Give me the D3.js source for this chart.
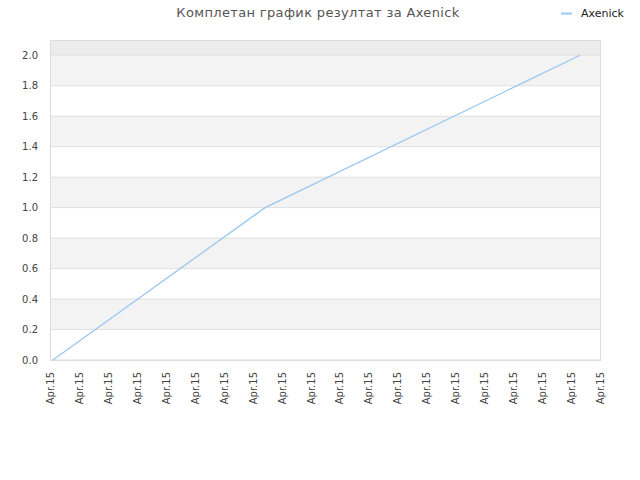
<!DOCTYPE html>
<html>
<head>
<meta charset="utf-8">
<script src="https://cdn.jsdelivr.net/npm/d3@7"></script>
<style>
  body { margin: 0; background: #fff; }
  text { font-family: "DejaVu Sans", sans-serif; }
</style>
</head>
<body>
<script>
// data
let seriesName = "Axenick"
let xTickLabels = ["Apr.15","Apr.15","Apr.15","Apr.15","Apr.15","Apr.15","Apr.15","Apr.15","Apr.15","Apr.15",
                   "Apr.15","Apr.15","Apr.15","Apr.15","Apr.15","Apr.15","Apr.15","Apr.15","Apr.15","Apr.15"]
let pointPos = [0.1, 7.43, 18.31]
let pointValues = [0.0, 1.0, 2.0]
let yTicks = [0.0, 0.2, 0.4, 0.6, 0.8, 1.0, 1.2, 1.4, 1.6, 1.8, 2.0]

let width = 640
let height = 480
let plotLeft = 50, plotRight = 600, plotTop = 40, plotBottom = 360

let svg = d3.select("body")
            .append("svg")
            .attr("width", width)
            .attr("height", height)

let xScale = d3.scaleLinear()
                .domain([0, xTickLabels.length - 1])
                .range([plotLeft, plotRight])

let yScale = d3.scaleLinear()
                .domain([0, 2.1])
                .range([plotBottom, plotTop])

// bands
svg.append("rect")
    .attr("x", plotLeft).attr("y", plotTop)
    .attr("width", plotRight - plotLeft)
    .attr("height", yScale(2.0) - plotTop)
    .attr("fill", "#ececec")

svg.selectAll("rect.band")
    .data(yTicks.slice(0, -1).filter((d, i) => i % 2 == 1))
    .enter()
    .append("rect")
    .attr("class", "band")
    .attr("x", plotLeft)
    .attr("y", d => yScale(d + 0.2))
    .attr("width", plotRight - plotLeft)
    .attr("height", d => yScale(d) - yScale(d + 0.2))
    .attr("fill", "#f3f3f3")

// grid lines
svg.selectAll("line.grid")
    .data(yTicks)
    .enter()
    .append("line")
    .attr("class", "grid")
    .attr("x1", plotLeft).attr("x2", plotRight)
    .attr("y1", d => yScale(d)).attr("y2", d => yScale(d))
    .attr("stroke", "#e0e0e0")

svg.append("rect")
    .attr("x", plotLeft + 0.5).attr("y", plotTop + 0.5)
    .attr("width", plotRight - plotLeft)
    .attr("height", plotBottom - plotTop)
    .attr("fill", "none")
    .attr("stroke", "#dcdcdc")

// y axis
let yAxis = d3.axisLeft(yScale)
                .tickValues(yTicks)
                .tickFormat(d3.format(".1f"))
                .tickSize(0)
                .tickPadding(12)

svg.append("g")
    .attr("transform", "translate(" + plotLeft + ",0)")
    .call(yAxis)
    .call(g => g.select(".domain").remove())
    .selectAll("text")
    .attr("font-family", "DejaVu Sans")
    .attr("font-size", 10)
    .attr("fill", "#444")

// x axis
let xAxis = d3.axisBottom(xScale)
                .tickValues(d3.range(xTickLabels.length))
                .tickFormat(i => xTickLabels[i])
                .tickSize(0)

svg.append("g")
    .attr("transform", "translate(0," + plotBottom + ")")
    .call(xAxis)
    .call(g => g.select(".domain").remove())
    .selectAll("text")
    .attr("font-family", "DejaVu Sans")
    .attr("font-size", 10)
    .attr("fill", "#444")
    .attr("text-anchor", "end")
    .attr("transform", "rotate(-90)")
    .attr("x", -12)
    .attr("y", 0)
    .attr("dy", "0.35em")

// line
let line = d3.line()
                .x((d, i) => xScale(pointPos[i]))
                .y(d => yScale(d))

svg.append("path")
    .datum(pointValues)
    .attr("d", line)
    .attr("fill", "none")
    .attr("stroke", "#99c7f2")
    .attr("stroke-width", 1.3)

// title
svg.append("text")
    .attr("x", 318)
    .attr("y", 17)
    .attr("text-anchor", "middle")
    .attr("font-size", 13)
    .attr("letter-spacing", 0.35)
    .attr("fill", "#555")
    .text("Комплетан график резултат за " + seriesName)

// legend
svg.append("line")
    .attr("x1", 561).attr("x2", 572)
    .attr("y1", 13.5).attr("y2", 13.5)
    .attr("stroke", "#99c7f2")
    .attr("stroke-width", 2)

svg.append("text")
    .attr("x", 581)
    .attr("y", 17)
    .attr("font-size", 11)
    .attr("fill", "#222")
    .text(seriesName)
</script>
</body>
</html>
